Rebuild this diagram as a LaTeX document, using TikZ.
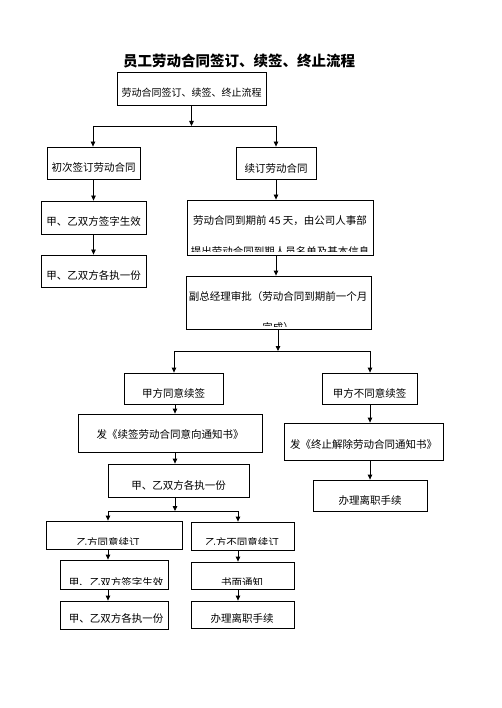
\documentclass[tikz,border=0pt]{standalone}
\usepackage{fontspec}
\setmainfont{Noto Sans CJK SC}
\usetikzlibrary{arrows.meta}
\tikzset{
  box/.style={draw, line width=0.8pt, inner sep=0pt, font=\fontsize{10.5}{12}\selectfont, text height=#1, text depth=0pt},
  box/.default=17pt,
  txt/.style={inner sep=0pt, font=\fontsize{10.5}{12}\selectfont, anchor=center},
  arr/.style={line width=0.8pt, -{Triangle[length=5pt,width=4.5pt]}},
  ln/.style={line width=0.8pt}
}
\begin{document}
\begin{tikzpicture}[x=1pt,y=-1pt]
\useasboundingbox (0,0) rectangle (502,708);
\node[font=\fontsize{14.5}{16}\selectfont\bfseries] (title) at (239,61) {员工劳动合同签订、续签、终止流程};
% top
\node[box, minimum width=149pt, minimum height=33pt, font=\fontsize{10}{12}\selectfont] (b0) at (191.5,88.5) {劳动合同签订、续签、终止流程};
\node[box=18pt, minimum width=93pt, minimum height=32pt] (b1) at (93.5,163) {初次签订劳动合同};
\node[box=20pt, minimum width=80pt, minimum height=32pt] (b2) at (276,163) {续订劳动合同};
\node[box, minimum width=105pt, minimum height=33pt] (b3) at (93.5,217.5) {甲、乙双方签字生效};
\node[box=16pt, minimum width=105pt, minimum height=32pt] (b4) at (93.5,271) {甲、乙双方各执一份};
% 45 day box
\node[box, minimum width=186pt, minimum height=55pt] (b5) at (280,227.5) {};
\begin{scope}
\clip (187,200) rectangle (373,252);
\node[txt] (t5a) at (280,221) {劳动合同到期前 45 天，由公司人事部};
\node[txt] (t5b) at (280,251) {提出劳动合同到期人员名单及基本信息};
\end{scope}
\node[box, minimum width=185pt, minimum height=53pt] (b6) at (278.5,302.5) {};
\begin{scope}
\clip (186,276) rectangle (371,326);
\node[txt] (t6a) at (278,297) {副总经理审批（劳动合同到期前一个月};
\node[txt] (t6b) at (278,328) {完成）};
\end{scope}
% middle
\node[box, minimum width=99pt, minimum height=31pt] (b7) at (173.5,388.5) {甲方同意续签};
\node[box, minimum width=95pt, minimum height=31pt] (b8) at (369.5,388.5) {甲方不同意续签};
\node[box=10pt, minimum width=184pt, minimum height=38pt] (b9) at (170,433) {发《续签劳动合同意向通知书》};
\node[box, minimum width=141pt, minimum height=33pt] (b10) at (178.5,480.5) {甲、乙双方各执一份};
\node[box=13pt, minimum width=159pt, minimum height=37pt] (b11) at (363.5,441.5) {发《终止解除劳动合同通知书》};
\node[box, minimum width=114pt, minimum height=31pt] (b12) at (370,495.5) {办理离职手续};
% bottom
\node[box, minimum width=136pt, minimum height=28pt] (b13) at (114,535) {};
\node[box, minimum width=103pt, minimum height=28pt] (b14) at (242.5,536) {};
\node[box, minimum width=108pt, minimum height=29pt] (b15) at (114,574.5) {};
\node[box, minimum width=103pt, minimum height=27pt] (b16) at (242.5,575.5) {};
\node[box, minimum width=108pt, minimum height=28pt] (b17) at (114,615) {};
\node[box, minimum width=103pt, minimum height=27pt] (b18) at (242.5,614.5) {};
\begin{scope}
\clip (46,521) rectangle (182,544);
\node[txt] (t13) at (108,542) {乙方同意续订};
\end{scope}
\begin{scope}
\clip (191,522) rectangle (294,544.5);
\node[txt] (t14) at (242,542) {乙方不同意续订};
\end{scope}
\begin{scope}
\clip (60,560) rectangle (168,584);
\node[txt] (t15) at (116,582) {甲、乙双方签字生效};
\end{scope}
\begin{scope}
\clip (191,562) rectangle (294,584);
\node[txt] (t16) at (242,582) {书面通知};
\end{scope}
\node[txt] (t17) at (116,618) {甲、乙双方各执一份};
\node[txt] (t18) at (242,618) {办理离职手续};
% connectors
\coordinate (j1) at (191.5,126);
\coordinate (j1l) at (93,126);
\coordinate (j1r) at (276,126);
\draw[arr] (b0.south) -- (j1);
\draw[ln] (j1l) -- (j1r);
\draw[arr] (j1l) -- (j1l |- b1.north);
\draw[arr] (j1r) -- (j1r |- b2.north);
\draw[arr] (b1.south) -- (b3.north);
\draw[arr] (b3.south) -- (b4.north);
\draw[arr] (b2.south) -- (b2.south |- b5.north);
\draw[arr] (b2.south |- b5.south) -- (b2.south |- b6.north);
\coordinate (j2) at (278,351);
\coordinate (j2l) at (174,351);
\coordinate (j2r) at (370,351);
\draw[arr] (j2 |- b6.south) -- (j2);
\draw[ln] (j2l) -- (j2r);
\draw[arr] (j2l) -- (j2l |- b7.north);
\draw[arr] (j2r) -- (j2r |- b8.north);
\coordinate (cx) at (175,0);
\draw[arr] (cx |- b7.south) -- (cx |- b9.north);
\draw[arr] (cx |- b9.south) -- (cx |- b10.north);
\draw[arr] (j2r |- b8.south) -- (j2r |- b11.north);
\draw[arr] (j2r |- b11.south) -- (j2r |- b12.north);
\coordinate (j3) at (175,511);
\coordinate (j3l) at (108,511);
\coordinate (j3r) at (238,511);
\draw[arr] (cx |- b10.south) -- (j3);
\draw[ln] (j3l) -- (j3r);
\draw[arr] (j3l) -- (j3l |- b13.north);
\draw[arr] (j3r) -- (j3r |- b14.north);
\draw[arr] (j3l |- b13.south) -- (j3l |- b15.north);
\draw[arr] (j3l |- b15.south) -- (j3l |- b17.north);
\draw[arr] (j3r |- b14.south) -- (j3r |- b16.north);
\draw[arr] (j3r |- b16.south) -- (j3r |- b18.north);
\end{tikzpicture}
\end{document}
